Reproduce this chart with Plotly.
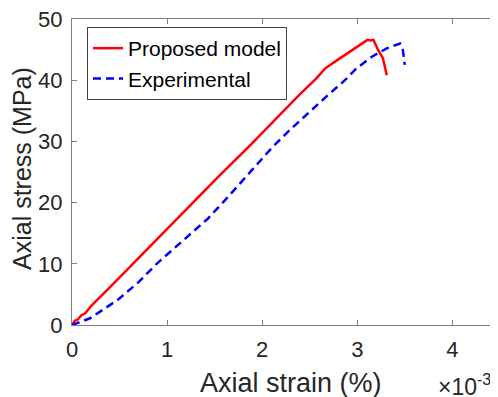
import plotly.graph_objects as go

# Strain values in units of 1e-3 (%)
model_strain = [0, 0.03, 0.06, 0.1, 0.14, 0.2, 0.4, 0.64, 0.95, 1.25, 1.55, 1.87, 2.1, 2.39, 2.57, 2.66, 2.8, 2.92, 3.04, 3.08, 3.11, 3.14, 3.17, 3.22, 3.27, 3.31]
model_stress = [0, 0.7, 0.9, 1.6, 1.9, 3.1, 6.2, 10.0, 14.9, 19.6, 24.4, 29.3, 33.0, 37.6, 40.3, 41.9, 43.4, 44.7, 46.0, 46.3, 46.6, 46.5, 46.6, 44.9, 43.6, 40.8]

exp_strain = [0, 0.19, 0.48, 0.7, 0.89, 1.15, 1.43, 1.61, 1.85, 2.11, 2.3, 2.48, 2.68, 2.87, 2.99, 3.15, 3.31, 3.45, 3.48, 3.50]
exp_stress = [0, 1.1, 4.1, 7.0, 10.0, 13.6, 17.4, 20.4, 24.6, 29.1, 32.0, 34.6, 37.4, 40.0, 41.9, 43.8, 45.2, 46.0, 44.9, 42.5]

x_ticks = [0, 1, 2, 3, 4]
y_ticks = [0, 10, 20, 30, 40, 50]

FONT = "Arial, Liberation Sans, Helvetica, sans-serif"
TXT = "#262626"
AX = "#808080"

# page body has an 8px margin: figure coords = window coords - 8
W, H = 490, 389
L, T, B = 64, 11, 72
PW, PH = W - L, H - T - B


def px(xw):
    return (xw - 8 - L) / PW


def py(yw):
    return (H - B - (yw - 8)) / PH


fig = go.Figure()
fig.add_trace(go.Scatter(x=model_strain, y=model_stress, mode="lines",
                         name="Proposed model",
                         line=dict(color="#FF0000", width=2.5)))
fig.add_trace(go.Scatter(x=exp_strain, y=exp_stress, mode="lines",
                         name="Experimental",
                         line=dict(color="#0000FF", width=2.5, dash="8px,5px")))

axis_common = dict(showline=True, linecolor=AX, linewidth=1.2, mirror="ticks",
                   ticks="inside", ticklen=5, tickcolor=AX, showgrid=False,
                   zeroline=False, automargin=False, ticklabeloverflow="allow",
                   tickfont=dict(family=FONT, size=22, color=TXT))

fig.update_layout(
    width=W, height=H,
    margin=dict(l=L, r=0, t=T, b=B),
    paper_bgcolor="white", plot_bgcolor="white",
    font=dict(family=FONT, color=TXT),
    xaxis=dict(range=[0, 4.48], tickvals=x_ticks, ticktext=[str(v) for v in x_ticks],
               ticklabelstandoff=4, **axis_common),
    yaxis=dict(range=[0, 50], tickvals=y_ticks, ticktext=[str(v) for v in y_ticks],
               ticklabelstandoff=4, **axis_common),
    legend=dict(x=px(87), y=py(27), xanchor="left", yanchor="top",
                bgcolor="white", bordercolor="#404040", borderwidth=1,
                font=dict(family=FONT, size=21, color="#000000"),
                tracegroupgap=0),
    showlegend=True,
)

# axis titles
fig.add_annotation(text="Axial strain (%)", xref="paper", yref="paper",
                   x=px(291), y=py(383), xanchor="center", yanchor="middle",
                   showarrow=False, font=dict(family=FONT, size=27, color=TXT))
fig.add_annotation(text="Axial stress (MPa)", xref="paper", yref="paper",
                   x=px(22), y=py(169), xanchor="center", yanchor="middle",
                   textangle=-90, showarrow=False, font=dict(family=FONT, size=25, color=TXT))

fig.add_annotation(text="×10<sup>-3</sup>", xref="paper", yref="paper",
                   x=px(436), y=py(385), xanchor="left", yanchor="middle",
                   showarrow=False, font=dict(family=FONT, size=23, color=TXT))

fig.write_html("out.html")
